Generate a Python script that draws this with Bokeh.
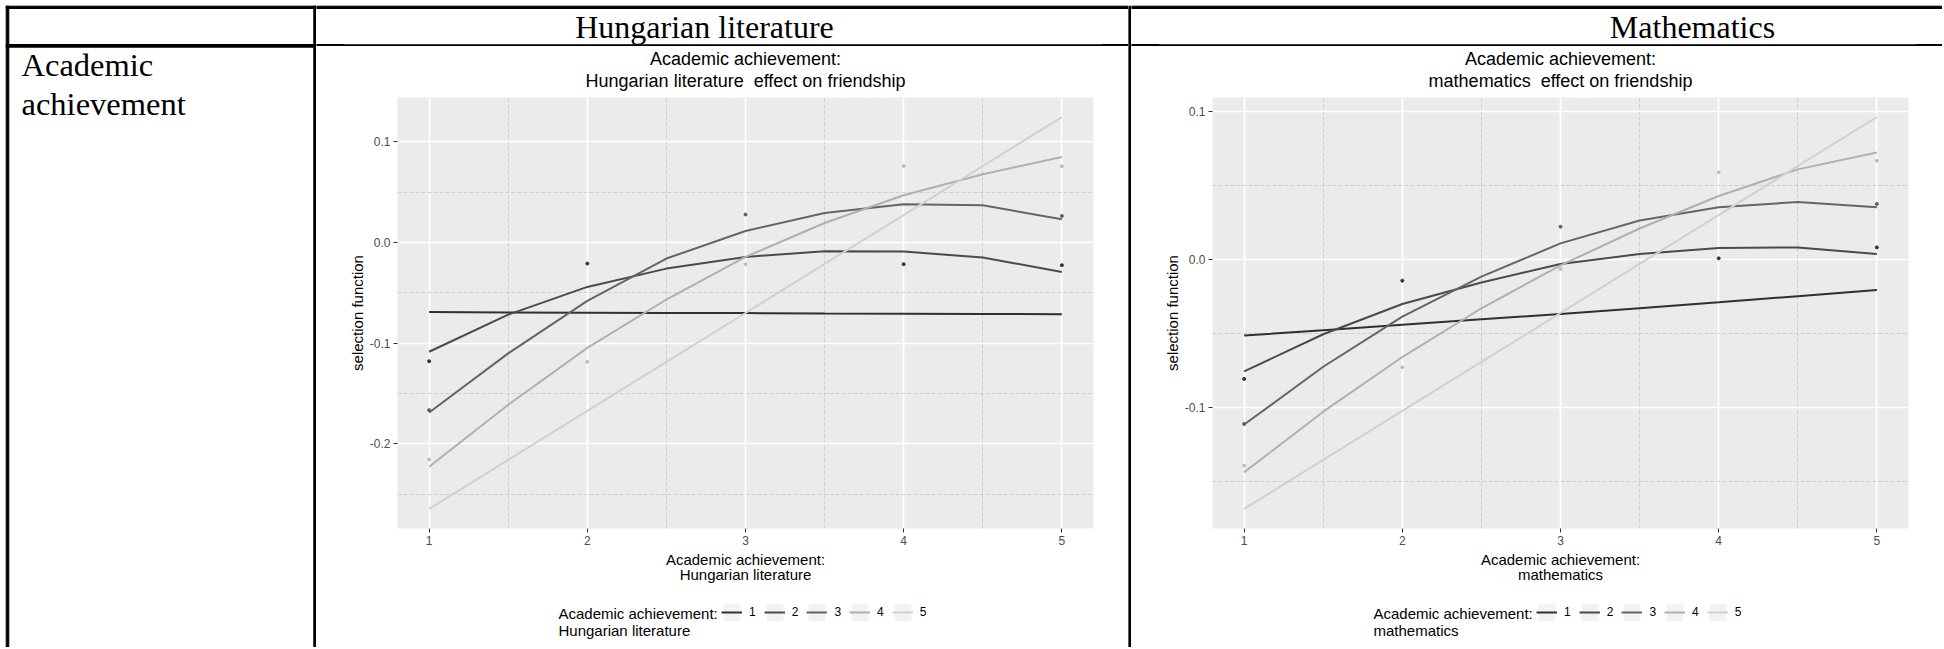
from bokeh.plotting import figure
from bokeh.models import (Range1d, SingleIntervalTicker, Legend, LegendItem, Label,
                          NumeralTickFormatter, Title)
from bokeh.layouts import row, column
from bokeh.embed import file_html
from bokeh.resources import INLINE

# ---------------- data ----------------
row_label = ["Academic", "achievement"]
col_headers = ["Hungarian literature", "Mathematics"]
subjects = ["Hungarian literature", "mathematics"]
levels = ["1", "2", "3", "4", "5"]
alter_x = [1, 1.5, 2, 2.5, 3, 3.5, 4, 4.5, 5]

lit_1 = [-0.0688, -0.0693, -0.0697, -0.0700, -0.0700, -0.0705, -0.0707, -0.0709, -0.0711]
lit_2 = [-0.1084, -0.0715, -0.0440, -0.0258, -0.0142, -0.0085, -0.0089, -0.0148, -0.0291]
lit_3 = [-0.1688, -0.1100, -0.0578, -0.0158, 0.0116, 0.0295, 0.0381, 0.0371, 0.0232]
lit_4 = [-0.2227, -0.1610, -0.1045, -0.0565, -0.0142, 0.0195, 0.0470, 0.0680, 0.0850]
lit_5 = [-0.2645, -0.2158, -0.1672, -0.1185, -0.0699, -0.0212, 0.0274, 0.0761, 0.1247]

lit_dot_x = [1, 1, 1, 2, 2, 3, 3, 4, 4, 5, 5, 5]
lit_dot_y = [-0.1178, -0.1664, -0.2154, -0.0208, -0.1184, 0.0279, -0.0214,
             0.0762, -0.0214, 0.0759, 0.0265, -0.0224]
lit_dot_tone = ["dark", "mid", "light", "dark", "light", "mid", "light",
                "light", "dark", "light", "mid", "dark"]

math_1 = [-0.0514, -0.0477, -0.0440, -0.0404, -0.0368, -0.0329, -0.0289, -0.0247, -0.0205]
math_2 = [-0.0756, -0.0505, -0.0300, -0.0155, -0.0029, 0.0038, 0.0079, 0.0083, 0.0038]
math_3 = [-0.1116, -0.0725, -0.0385, -0.0115, 0.0110, 0.0265, 0.0355, 0.0390, 0.0354]
math_4 = [-0.1439, -0.1029, -0.0659, -0.0329, -0.0039, 0.0211, 0.0431, 0.0611, 0.0726]
math_5 = [-0.1687, -0.1355, -0.1024, -0.0692, -0.0361, -0.0029, 0.0302, 0.0634, 0.0965]

math_dot_x = [1, 1, 1, 2, 2, 3, 3, 4, 4, 5, 5, 5]
math_dot_y = [-0.0807, -0.1112, -0.1394, -0.0142, -0.0728, 0.0223, -0.0063,
              0.0591, 0.0009, 0.0670, 0.0377, 0.0083]
math_dot_tone = ["dark", "mid", "light", "dark", "light", "mid", "light",
                 "light", "dark", "light", "mid", "dark"]

# ---------------- style ----------------
LINE_COLORS = ["#303030", "#4A4A4A", "#656565", "#B0B0B0", "#D0D0D0"]
TONE = {"dark": "#333333", "mid": "#606060", "light": "#BDBDBD"}
SANS = "Liberation Sans"
SERIF = "Liberation Serif"
HEAD_H = 46
PLOT_H = 552
LEG_H = 49
LEFT_W, MID_W, VL_W, RIGHT_W = 316, 812, 3, 811
TOTAL_H = HEAD_H + PLOT_H + LEG_H


def decor(w, h):
    f = figure(width=w, height=h, x_range=Range1d(0, w), y_range=Range1d(h, 0),
               min_border=0, x_axis_location=None, y_axis_location=None,
               title_location=None, frame_align=False,
               outline_line_color=None, toolbar_location=None, output_backend="svg",
               background_fill_color="white", border_fill_color="white")
    f.grid.visible = False
    return f


def build_plot(subject, series, dot_x, dot_y, dot_tone, width, left, right):
    ys = [v for s in series for v in s] + list(dot_y)
    xs = list(alter_x) + list(dot_x)
    ylo, yhi = min(ys), max(ys)
    ypad = 0.05 * (yhi - ylo)
    xlo, xhi = min(xs), max(xs)
    xpad = 0.05 * (xhi - xlo)
    p = figure(width=width, height=PLOT_H,
               x_range=Range1d(xlo - xpad, xhi + xpad),
               y_range=Range1d(ylo - ypad, yhi + ypad),
               min_border_left=left, min_border_right=right,
               min_border_top=51, min_border_bottom=PLOT_H - 51 - 431,
               title_location=None, frame_align=False,
               toolbar_location=None, output_backend="svg",
               background_fill_color="#EBEBEB", border_fill_color="white",
               outline_line_color=None)

    for txt, so in ((subject + "\u00a0 effect on friendship", 13),
                    ("Academic achievement:", -13)):
        p.add_layout(Title(text=txt, align="center", text_font=SANS,
                           text_font_size="18px", text_font_style="normal",
                           text_color="black", standoff=so), "above")

    p.xaxis.ticker = SingleIntervalTicker(interval=1, num_minor_ticks=2)
    p.yaxis.ticker = SingleIntervalTicker(interval=0.1, num_minor_ticks=2)
    p.yaxis.formatter = NumeralTickFormatter(format="0.0")

    for ax in (p.xaxis, p.yaxis):
        ax.axis_line_color = None
        ax.major_tick_line_color = "#333333"
        ax.major_tick_out = 4
        ax.major_tick_in = 0
        ax.minor_tick_line_color = None
        ax.major_label_text_font = SANS
        ax.major_label_text_font_size = "12px"
        ax.major_label_text_color = "#4D4D4D"
        ax.major_label_standoff = 3
        ax.axis_label_text_font = SANS
        ax.axis_label_text_font_size = "15px"
        ax.axis_label_text_font_style = "normal"
        ax.axis_label_text_color = "black"
    p.xaxis.axis_label_standoff = 3
    p.yaxis.axis_label_standoff = 1
    p.xaxis.axis_label = "Academic achievement:\n" + subject
    p.xaxis.axis_label_text_line_height = 0.93
    p.yaxis.axis_label = "selection function"

    for g in (p.xgrid, p.ygrid):
        g.grid_line_color = "white"
        g.grid_line_width = 1.7
        g.minor_grid_line_color = "#C8C8C8"
        g.minor_grid_line_width = 0.8
        g.minor_grid_line_dash = "4 2"

    for ys_, col in zip(series, LINE_COLORS):
        p.line(alter_x, ys_, line_color=col, line_width=2)
    p.scatter(dot_x, dot_y, size=3, color=[TONE[t] for t in dot_tone])
    return p


def build_legend(subject, width):
    f = figure(width=width, height=LEG_H, x_range=Range1d(0, 1), y_range=Range1d(0, 1),
               min_border=0, x_axis_location=None, y_axis_location=None,
               title_location=None, frame_align=False,
               outline_line_color=None, toolbar_location=None, output_backend="svg")
    f.grid.visible = False
    # hidden proxy renderers: they only provide the legend key styling
    key_bg = f.quad(left=[0], right=[1], top=[1], bottom=[0], fill_color="#F2F2F2",
                    line_color=None, visible=False)
    items = []
    for lvl, col in zip(levels, LINE_COLORS):
        r = f.line([0, 1], [0.5, 0.5], line_color=col, line_width=2, visible=False)
        items.append(LegendItem(label=lvl, renderers=[key_bg, r]))
    legend = Legend(items=items, orientation="horizontal", location=(405, 23.7),
                    glyph_width=21, glyph_height=22, label_standoff=7, spacing=8,
                    padding=0, margin=0, border_line_color=None,
                    background_fill_alpha=0, label_text_font=SANS,
                    label_text_font_size="12px", label_text_color="black",
                    label_width=0, label_height=20)
    f.add_layout(legend)
    f.add_layout(Label(x=242, y=43, x_units="screen", y_units="screen",
                       text="Academic achievement:\n" + subject,
                       text_font=SANS, text_font_size="15px", text_color="black",
                       text_baseline="top", text_align="left",
                       text_line_height=1.0))
    return f


# ---------------- table decoration ----------------
left_fig = decor(LEFT_W, TOTAL_H)
left_fig.quad(left=[5.7, 5.7, 5.7, 313.3], right=[8.3, LEFT_W, LEFT_W, LEFT_W],
              top=[5.7, 5.7, 44, 5.7], bottom=[TOTAL_H, 8, 46.7, TOTAL_H], color="black")
left_fig.add_layout(Label(x=21, y=64, text=row_label[0], text_font=SERIF,
                          text_font_size="32.5px", text_color="black",
                          text_baseline="middle"))
left_fig.add_layout(Label(x=21, y=103, text=row_label[1], text_font=SERIF,
                          text_font_size="32.5px", text_color="black",
                          text_baseline="middle"))

head1 = decor(MID_W, HEAD_H)
head1.quad(left=[0, 0, 27, 786], right=[MID_W, 27, 786, MID_W],
           top=[5.7, 44, 44.3, 44], bottom=[8, 46.7, 45.7, 46.7], color="black")
head1.add_layout(Label(x=704 - LEFT_W, y=26.5, text=col_headers[0], text_font=SERIF,
                       text_font_size="32px", text_color="black",
                       text_align="center", text_baseline="middle"))

vline = decor(VL_W, TOTAL_H)
vline.quad(left=[0], right=[VL_W], top=[5.7], bottom=[TOTAL_H], color="black")

X2 = LEFT_W + MID_W + VL_W
head2 = decor(RIGHT_W, HEAD_H)
head2.quad(left=[0, 0, 27, 1916 - X2], right=[RIGHT_W, 27, 1916 - X2, RIGHT_W],
           top=[5.7, 44, 44.3, 44], bottom=[8, 46.7, 45.7, 46.7], color="black")
head2.add_layout(Label(x=1692 - X2, y=26.5, text=col_headers[1], text_font=SERIF,
                       text_font_size="32px", text_color="black",
                       text_align="center", text_baseline="middle"))

plot1 = build_plot(subjects[0], [lit_1, lit_2, lit_3, lit_4, lit_5],
                   lit_dot_x, lit_dot_y, lit_dot_tone, MID_W, 81, 35)
plot2 = build_plot(subjects[1], [math_1, math_2, math_3, math_4, math_5],
                   math_dot_x, math_dot_y, math_dot_tone, RIGHT_W, 81, RIGHT_W - 81 - 696)
leg1 = build_legend(subjects[0], MID_W)
leg2 = build_legend(subjects[1], RIGHT_W)

layout = row(left_fig, column(head1, plot1, leg1, spacing=0), vline,
             column(head2, plot2, leg2, spacing=0), spacing=0)

open("out.html", "w").write(file_html(layout, INLINE))
